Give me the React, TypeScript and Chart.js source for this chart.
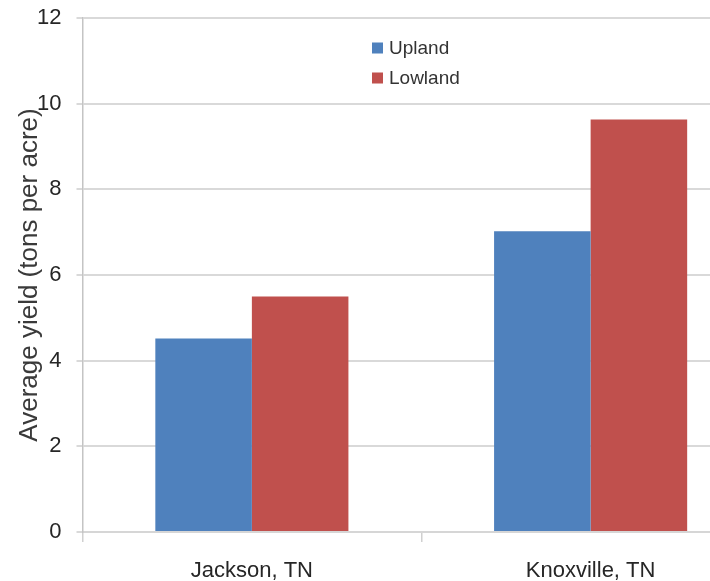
import React, { useEffect, useRef } from "react";
import { Chart, registerables } from "chart.js";

Chart.register(...registerables);

const categories = ["Jackson, TN", "Knoxville, TN"];
const seriesLabels = ["Upland", "Lowland"];
const uplandValues = [4.52, 7.02];
const lowlandValues = [5.5, 9.63];
const seriesColors = ["#4F81BD", "#C0504D"];
const yMin = 0;
const yMax = 12;
const yStep = 2;
const yTitle = "Average yield (tons per acre)";

const FONT = "'Liberation Sans', Arial, Helvetica, sans-serif";

const insideLegend = {
  id: "insideLegend",
  afterDraw(chart: any, _args: any, opts: any) {
    const ctx = chart.ctx;
    ctx.save();
    ctx.font = `${opts.fontSize}px ${FONT}`;
    ctx.textBaseline = "middle";
    ctx.textAlign = "left";
    chart.data.datasets.forEach((ds: any, i: number) => {
      const y = opts.y + i * opts.spacing;
      ctx.fillStyle = ds.backgroundColor;
      ctx.fillRect(opts.x, y - opts.box / 2, opts.box, opts.box);
      ctx.fillStyle = opts.color;
      ctx.fillText(ds.label, opts.x + opts.box + opts.gap, y + 1);
    });
    ctx.restore();
  },
};

export default function App() {
  const ref = useRef<HTMLCanvasElement | null>(null);

  useEffect(() => {
    if (!ref.current) return;
    const chart = new Chart(ref.current, {
      type: "bar",
      data: {
        labels: categories,
        datasets: [
          {
            label: seriesLabels[0],
            data: uplandValues,
            backgroundColor: seriesColors[0],
            borderWidth: 0,
          },
          {
            label: seriesLabels[1],
            data: lowlandValues,
            backgroundColor: seriesColors[1],
            borderWidth: 0,
          },
        ],
      },
      options: {
        animation: false,
        responsive: true,
        maintainAspectRatio: false,
        layout: { padding: { top: 18, right: 0, bottom: 0, left: 0 } },
        datasets: {
          bar: { categoryPercentage: 0.57, barPercentage: 1 },
        },
        plugins: {
          legend: { display: false },
          tooltip: { enabled: false },
          insideLegend: {
            x: 372,
            y: 48,
            spacing: 30,
            box: 11,
            gap: 6,
            fontSize: 19,
            color: "#333333",
          },
        } as any,
        scales: {
          x: {
            afterFit: (scale: any) => {
              scale.height = 49;
            },
            grid: {
              display: true,
              drawOnChartArea: false,
              drawTicks: true,
              tickLength: 10,
              color: "#d0d0d0",
              lineWidth: 1.5,
            },
            border: { display: true, color: "#d6d6d6", width: 2 },
            ticks: {
              padding: 16,
              color: "#262626",
              font: { family: FONT, size: 22 },
            },
          },
          y: {
            min: yMin,
            max: yMax,
            afterFit: (scale: any) => {
              scale.width = 82.5;
              scale.paddingTop = 0;
              scale.paddingBottom = 0;
            },
            ticks: {
              stepSize: yStep,
              padding: 15,
              color: "#262626",
              font: { family: FONT, size: 22 },
            },
            grid: {
              color: "#d9d9d9",
              lineWidth: 2,
              tickLength: 6,
            },
            border: { display: true, color: "#c4c4c4", width: 1.5 },
            title: {
              display: true,
              text: yTitle,
              color: "#3a3a3a",
              font: { family: FONT, size: 26 },
              padding: { top: 14, bottom: 0 },
            },
          },
        },
      },
      plugins: [insideLegend],
    });
    return () => chart.destroy();
  }, []);

  return (
    <div
      style={{
        position: "fixed",
        left: 0,
        top: 0,
        width: 710,
        height: 581,
        overflow: "hidden",
        background: "#ffffff",
      }}
    >
      <div style={{ position: "relative", width: 760, height: 581 }}>
        <canvas ref={ref} />
      </div>
    </div>
  );
}
